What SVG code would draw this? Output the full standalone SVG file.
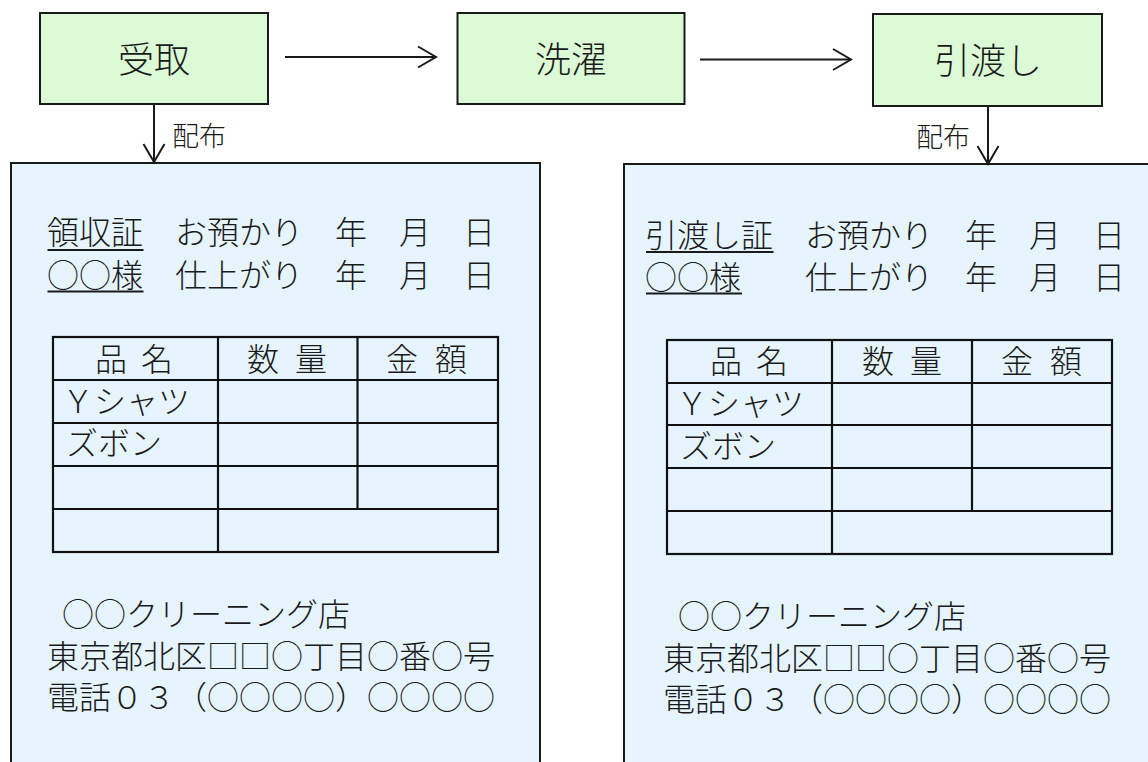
<svg xmlns="http://www.w3.org/2000/svg" width="1148" height="762" viewBox="0 0 1148 762">
<style>
.box{fill:#DCFAD6;stroke:#1a1a1a;stroke-width:2}
.panel{fill:#E6F4FE;stroke:#1a1a1a;stroke-width:2}
.t{font-family:"Noto Sans CJK JP","Noto Sans CJK SC",sans-serif;fill:#1a1a1a;font-weight:300}
.big{font-size:36px}
.lbl{font-size:27px}
.txt{font-size:32px}
.ul{stroke:#1a1a1a;stroke-width:2}
.tb{fill:none;stroke:#111;stroke-width:2.2}
.conn{stroke:#1a1a1a;stroke-width:2;fill:none}
</style>
<defs>
<marker id="arr" viewBox="0 0 21 24" refX="19" refY="12" markerWidth="21" markerHeight="24" markerUnits="userSpaceOnUse" orient="auto">
<path d="M1,1.5 L19,12 L1,22.5" fill="none" stroke="#1a1a1a" stroke-width="2"/>
</marker>
</defs>

<g id="node-uketori">
<rect class="box" x="40" y="13" width="228" height="91"/>
<text class="t big" x="154" y="73" text-anchor="middle">受取</text>
</g>
<g id="node-sentaku">
<rect class="box" x="457.5" y="13" width="227" height="91"/>
<text class="t big" x="571" y="73" text-anchor="middle">洗濯</text>
</g>
<g id="node-hikiwatashi">
<rect class="box" x="873" y="14" width="229" height="92"/>
<text class="t big" x="988" y="74" text-anchor="middle">引渡し</text>
</g>

<g id="node-receipt-left">
<rect class="panel" x="11" y="163" width="529" height="640"/>
<text class="t txt" x="47" y="244">領収証　お預かり　年　月　日</text>
<line class="ul" x1="47.5" y1="250" x2="143.5" y2="250"/>
<text class="t txt" x="47" y="287">○○様　仕上がり　年　月　日</text>
<line class="ul" x1="47.5" y1="291.5" x2="143.5" y2="291.5"/>
<g class="tb">
<rect x="53" y="337" width="445" height="215"/>
<line x1="53" y1="380" x2="498" y2="380"/>
<line x1="53" y1="423" x2="498" y2="423"/>
<line x1="53" y1="466" x2="498" y2="466"/>
<line x1="53" y1="509" x2="498" y2="509"/>
<line x1="218" y1="337" x2="218" y2="552"/>
<line x1="357.5" y1="337" x2="357.5" y2="509"/>
</g>
<text class="t txt" y="371"><tspan x="95">品</tspan><tspan x="141">名</tspan><tspan x="247">数</tspan><tspan x="295">量</tspan><tspan x="386">金</tspan><tspan x="435">額</tspan></text>
<text class="t txt" x="62" y="413">Ｙシャツ</text>
<text class="t txt" x="66" y="455">ズボン</text>
<text class="t txt" x="62" y="626">○○クリーニング店</text>
<text class="t txt" x="47" y="668">東京都北区□□○丁目○番○号</text>
<text class="t txt" x="47" y="709">電話０３（○○○○）○○○○</text>
</g>

<g id="node-receipt-right">
<rect class="panel" x="624" y="164" width="600" height="640"/>
<text class="t txt" x="645" y="247">引渡し証　お預かり　年　月　日</text>
<line class="ul" x1="646" y1="252" x2="773.5" y2="252"/>
<text class="t txt" x="645" y="289">○○様　　仕上がり　年　月　日</text>
<line class="ul" x1="646" y1="293.5" x2="742" y2="293.5"/>
<g class="tb">
<rect x="667" y="340" width="445" height="214"/>
<line x1="667" y1="383" x2="1112" y2="383"/>
<line x1="667" y1="425" x2="1112" y2="425"/>
<line x1="667" y1="468" x2="1112" y2="468"/>
<line x1="667" y1="511" x2="1112" y2="511"/>
<line x1="832" y1="340" x2="832" y2="554"/>
<line x1="972" y1="340" x2="972" y2="511"/>
</g>
<text class="t txt" y="373"><tspan x="710">品</tspan><tspan x="756">名</tspan><tspan x="862">数</tspan><tspan x="910">量</tspan><tspan x="1001">金</tspan><tspan x="1050">額</tspan></text>
<text class="t txt" x="676" y="415">Ｙシャツ</text>
<text class="t txt" x="680" y="458">ズボン</text>
<text class="t txt" x="678" y="628">○○クリーニング店</text>
<text class="t txt" x="663" y="670">東京都北区□□○丁目○番○号</text>
<text class="t txt" x="663" y="711">電話０３（○○○○）○○○○</text>
</g>

<g id="connectors">
<line class="conn" x1="285" y1="57" x2="436" y2="57" marker-end="url(#arr)"/>
<line class="conn" x1="700" y1="59.5" x2="851" y2="59.5" marker-end="url(#arr)"/>
<line class="conn" x1="154" y1="104" x2="154" y2="162" marker-end="url(#arr)"/>
<line class="conn" x1="988" y1="106" x2="988" y2="164" marker-end="url(#arr)"/>
<text class="t lbl" x="172" y="146">配布</text>
<text class="t lbl" x="916" y="147">配布</text>
</g>
</svg>
